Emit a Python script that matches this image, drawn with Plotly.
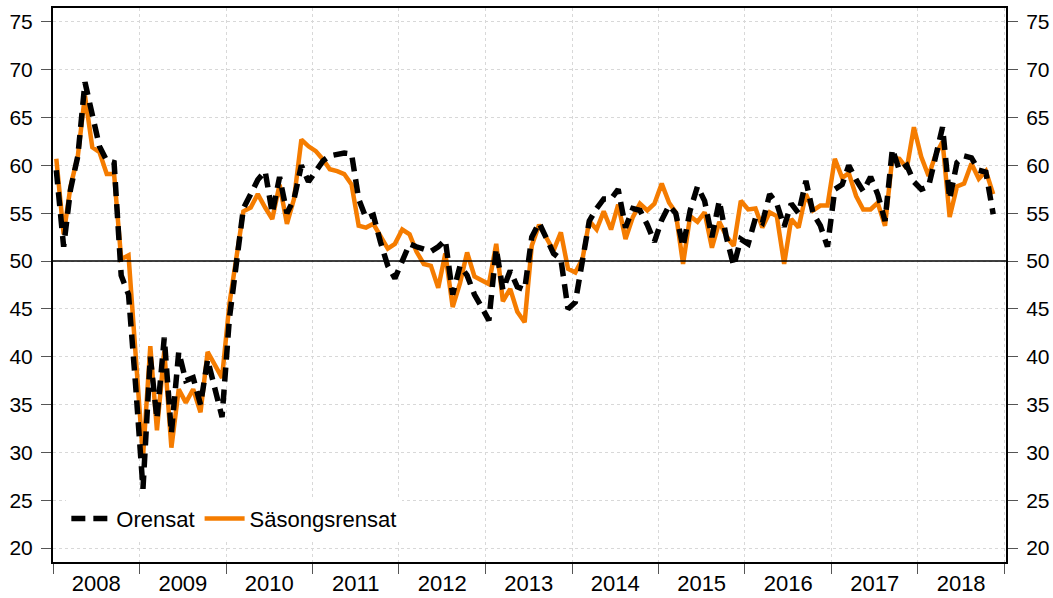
import pandas as pd
import plotly.graph_objects as go

# Säsongsrensat (seasonally adjusted), monthly Jan 2008 - Nov 2018
sasongsrensat = [
    60.7, 52.8, 57.8, 61.0, 67.3, 61.9, 61.4, 59.1, 59.1, 50.2, 50.6, 40.0,  # 2008
    29.5, 41.1, 32.3, 40.6, 30.5, 36.6, 35.2, 36.6, 34.2, 40.5, 39.0, 37.8,  # 2009
    45.5, 50.5, 55.2, 55.6, 57.0, 55.6, 54.4, 58.0, 53.9, 56.5, 62.7, 62.0,  # 2010
    61.5, 60.6, 59.6, 59.4, 59.1, 58.0, 53.7, 53.5, 53.9, 52.6, 51.3, 51.8,  # 2011
    53.3, 52.8, 51.0, 49.7, 49.5, 47.2, 50.8, 45.2, 47.7, 50.9, 48.4, 48.0,  # 2012
    47.6, 51.8, 45.8, 47.1, 44.7, 43.6, 51.6, 53.8, 52.3, 51.1, 53.0, 49.2,  # 2013
    48.8, 50.3, 54.2, 53.3, 55.2, 53.3, 55.9, 52.3, 54.6, 56.0, 55.3, 56.0,  # 2014
    58.1, 56.1, 55.1, 49.7, 54.7, 54.1, 55.1, 51.4, 54.1, 52.6, 51.6, 56.3,  # 2015
    55.4, 55.5, 53.5, 55.1, 54.7, 49.7, 54.4, 53.5, 57.0, 55.3, 55.8, 55.8,  # 2016
    60.7, 58.7, 59.2, 56.8, 55.4, 55.4, 56.1, 53.7, 60.8, 60.7, 59.7, 64.0,  # 2017
    60.9, 58.9, 61.0, 62.5, 54.6, 57.8, 58.1, 60.2, 58.6, 59.4, 57.0,        # 2018
]

# Orensat (not adjusted), monthly Jan 2008 - Nov 2018
orensat = [
    59.5, 51.5, 57.5, 61.0, 68.7, 65.0, 62.0, 60.5, 60.3, 48.5, 46.5, 37.0,  # 2008
    26.2, 40.0, 33.5, 42.0, 32.0, 40.5, 37.5, 37.8, 35.0, 39.7, 36.5, 33.7,  # 2009
    44.0, 50.0, 55.5, 57.0, 58.5, 59.4, 55.0, 58.8, 55.0, 56.5, 60.0, 58.3,  # 2010
    59.5, 60.5, 61.0, 61.2, 61.3, 61.2, 56.5, 54.5, 54.8, 52.0, 49.5, 48.2,  # 2011
    50.0, 51.8, 51.5, 51.3, 51.0, 51.5, 52.2, 46.5, 49.5, 48.5, 46.5, 45.2,  # 2012
    43.8, 51.3, 47.0, 49.0, 47.3, 47.0, 52.5, 54.0, 52.5, 50.8, 50.2, 45.0,  # 2013
    45.7, 50.3, 54.2, 55.5, 56.5, 56.5, 57.5, 53.5, 55.5, 55.3, 53.8, 52.0,  # 2014
    54.3, 55.8, 55.0, 51.5, 55.3, 57.8, 56.3, 52.5, 56.3, 52.5, 49.5, 52.3,  # 2015
    51.8, 54.5, 54.0, 57.0, 56.0, 53.6, 56.0, 55.0, 58.4, 55.0, 53.7, 51.5,  # 2016
    57.5, 58.0, 60.0, 58.5, 57.3, 58.8, 57.0, 54.2, 61.7, 59.5, 60.0, 58.3,  # 2017
    57.5, 57.8, 60.5, 64.0, 56.5, 60.3, 61.0, 60.8, 59.5, 59.3, 54.9,        # 2018
]

months = pd.date_range("2008-01-01", periods=len(orensat), freq="MS") + pd.Timedelta(days=14)
y_ticks = list(range(20, 80, 5))
reference_level = 50
font_family = "Liberation Sans, Arial, sans-serif"

fig = go.Figure()
fig.add_trace(go.Scatter(
    x=months, y=sasongsrensat, name="Säsongsrensat", mode="lines",
    line=dict(color="#F57C00", width=4.5), legendrank=2, yaxis="y",
))
fig.add_trace(go.Scatter(
    x=months, y=orensat, name="Orensat", mode="lines",
    line=dict(color="black", width=5.5, dash="14px,8px"), legendrank=1, yaxis="y2",
))

fig.add_shape(type="line", xref="paper", x0=0, x1=1, yref="y", y0=reference_level, y1=reference_level,
              line=dict(color="black", width=1.5))

axis_common = dict(
    range=[18.54, 76.46], tickvals=y_ticks, ticks="outside", ticklen=10, tickwidth=1,
    tickcolor="#555", showline=True, linecolor="black", linewidth=2,
    tickfont=dict(size=21, color="black", family=font_family), zeroline=False,
    automargin=False, ticklabelstandoff=4,
)

fig.update_layout(
    width=1053, height=598,
    margin=dict(l=53, r=47, t=8, b=36),
    paper_bgcolor="white", plot_bgcolor="white",
    font=dict(family=font_family, size=22, color="black"),
    showlegend=True,
    legend=dict(orientation="h", x=0.014, y=0.078, xanchor="left", yanchor="middle",
                bgcolor="white", font=dict(size=22), itemwidth=40, tracegroupgap=0,
                traceorder="normal"),
    xaxis=dict(
        type="date", range=["2008-01-01", "2019-01-08"], dtick="M12", tick0="2008-01-01",
        tickformat="%Y", ticklabelmode="period", ticks="outside", ticklen=10, tickcolor="#555",
        showline=True, linecolor="black", linewidth=2, mirror=True, automargin=False,
        showgrid=True, gridcolor="#d8d8d8", griddash="dot", gridwidth=1,
        tickfont=dict(size=22, color="black", family=font_family), ticklabelstandoff=-9,
    ),
    yaxis=dict(side="left", showgrid=True, gridcolor="#d8d8d8", griddash="dot", gridwidth=1,
               **axis_common),
    yaxis2=dict(side="right", overlaying="y", matches="y", showgrid=False, **axis_common),
)

# remove the default page margin so the figure fills the window exactly
fig.write_html("out.html", config={"displayModeBar": False},
               post_script="document.body.style.margin='0';document.body.style.overflow='hidden';")
